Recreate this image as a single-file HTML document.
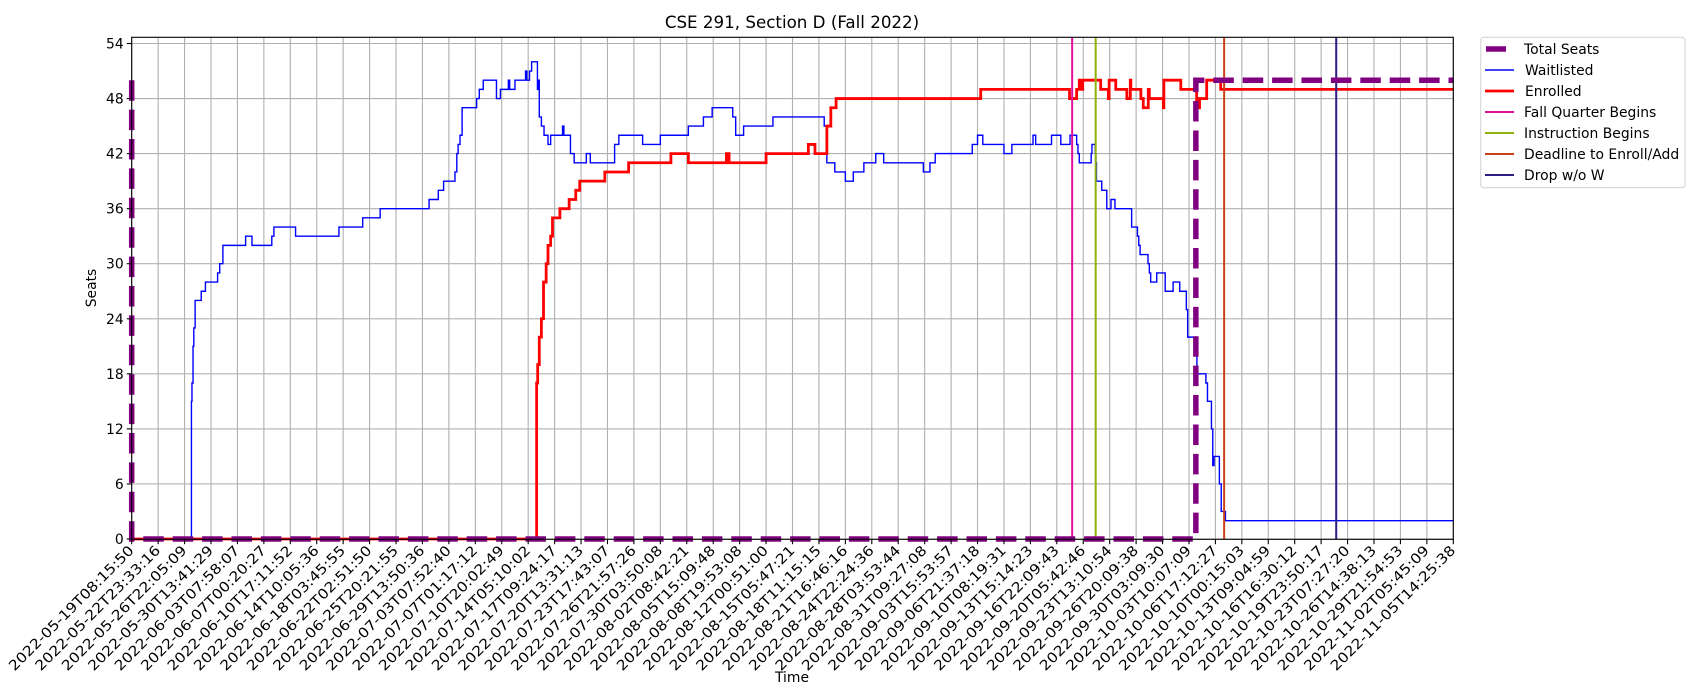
<!DOCTYPE html>
<html><head><meta charset="utf-8"><style>
html,body{margin:0;padding:0;background:#fff;}
svg{display:block;font-family:"DejaVu Sans","Liberation Sans",sans-serif;}
</style></head><body>
<svg id="chart" width="1700" height="700" viewBox="0 0 1700 700" xmlns="http://www.w3.org/2000/svg">
<rect width="1700" height="700" fill="#fff"/>
<text x="792" y="28" font-size="16.7" text-anchor="middle">CSE 291, Section D (Fall 2022)</text>
<g id="grid"></g>
<g id="series"></g>
<rect x="131.7" y="37.3" width="1321.6" height="502" fill="none" stroke="#000" stroke-width="1.1"/>
<g id="axes"></g>
<text x="96" y="288" font-size="13.9" text-anchor="middle" transform="rotate(-90 96 288)">Seats</text>
<text x="792" y="682" font-size="13.9" text-anchor="middle">Time</text>
<g>
<rect x="1480.7" y="37.3" width="204.3" height="150.4" rx="3" fill="#fff" stroke="#d6d6d6" stroke-width="1.1"/>
<g font-size="13.9">
<line x1="1486" y1="49" x2="1506" y2="49" stroke="#800080" stroke-width="5.5"/>
<text x="1524" y="54">Total Seats</text>
<line x1="1485" y1="70" x2="1514" y2="70" stroke="#0000ff" stroke-width="1.4"/>
<text x="1525" y="75">Waitlisted</text>
<line x1="1485" y1="91" x2="1514" y2="91" stroke="#ff0000" stroke-width="2.8"/>
<text x="1525" y="96">Enrolled</text>
<line x1="1485" y1="112" x2="1514" y2="112" stroke="#e0109f" stroke-width="2"/>
<text x="1524" y="117">Fall Quarter Begins</text>
<line x1="1485" y1="133" x2="1514" y2="133" stroke="#8fb20a" stroke-width="2"/>
<text x="1524" y="138">Instruction Begins</text>
<line x1="1485" y1="154" x2="1514" y2="154" stroke="#cc4016" stroke-width="2"/>
<text x="1524" y="159">Deadline to Enroll/Add</text>
<line x1="1485" y1="175" x2="1514" y2="175" stroke="#2a1f80" stroke-width="2"/>
<text x="1524" y="180">Drop w/o W</text>
</g></g>
</svg>
<script>
const tickLabels = ["2022-05-19T08:15:50","2022-05-22T23:33:16","2022-05-26T22:05:09","2022-05-30T13:41:29","2022-06-03T07:58:07","2022-06-07T00:20:27","2022-06-10T17:11:52","2022-06-14T10:05:36","2022-06-18T03:45:55","2022-06-22T02:51:50","2022-06-25T20:21:55","2022-06-29T13:50:36","2022-07-03T07:52:40","2022-07-07T01:17:12","2022-07-10T20:02:49","2022-07-14T05:10:02","2022-07-17T09:24:17","2022-07-20T13:31:13","2022-07-23T17:43:07","2022-07-26T21:57:26","2022-07-30T03:50:08","2022-08-02T08:42:21","2022-08-05T15:09:48","2022-08-08T19:53:08","2022-08-12T00:51:00","2022-08-15T05:47:21","2022-08-18T11:15:15","2022-08-21T16:46:16","2022-08-24T22:24:36","2022-08-28T03:53:44","2022-08-31T09:27:08","2022-09-03T15:53:57","2022-09-06T21:37:18","2022-09-10T08:19:31","2022-09-13T15:14:23","2022-09-16T22:09:43","2022-09-20T05:42:46","2022-09-23T13:10:54","2022-09-26T20:09:38","2022-09-30T03:09:30","2022-10-03T10:07:09","2022-10-06T17:12:27","2022-10-10T00:15:03","2022-10-13T09:04:59","2022-10-16T16:30:12","2022-10-19T23:50:17","2022-10-23T07:27:20","2022-10-26T14:38:13","2022-10-29T21:54:53","2022-11-02T05:45:09","2022-11-05T14:25:38"];
const yTicks = [0,6,12,18,24,30,36,42,48,54];
const totalX = [0,0,40.26,40.26,50];
const totalY = [50,0,0,50,50];
const enrolledX = [0,15.3,15.32,15.36,15.42,15.5,15.58,15.68,15.75,15.85,15.92,16.2,16.55,16.8,16.95,17.9,18.8,20.4,21.06,22.5,22.6,24.0,25.6,25.85,26.3,26.45,26.65,32.12,35.48,35.75,35.85,35.9,35.98,36.66,36.95,36.98,37.23,37.65,37.78,37.8,38.18,38.27,38.46,38.5,39.03,39.05,39.69,40.29,40.33,40.36,40.4,40.67,41.2,50];
const enrolledY = [0,0,17,19,22,24,28,30,32,33,35,36,37,38,39,40,41,42,41,42,41,42,43,42,45,47,48,49,48,49,50,49,50,49,48,50,49,48,50,49,48,47,49,48,47,50,49,47,48,47,48,50,49,49];
const waitX = [0,2.26,2.28,2.32,2.35,2.4,2.63,2.79,3.25,3.33,3.45,4.31,4.55,5.3,5.38,6.2,7.84,8.74,9.4,11.25,11.6,11.8,12.23,12.3,12.35,12.42,12.5,13.05,13.15,13.3,13.8,13.95,14.25,14.3,14.5,14.9,14.95,15.05,15.13,15.35,15.38,15.42,15.5,15.6,15.75,15.85,16.3,16.35,16.6,16.74,17.2,17.35,18.27,18.43,19.33,20.0,21.06,21.63,21.96,22.74,22.85,23.15,24.26,26.2,26.3,26.6,27.0,27.3,27.7,28.15,28.45,29.95,30.2,30.4,31.8,32.0,32.2,33.0,33.3,34.1,34.2,34.8,35.15,35.5,35.75,35.8,35.85,36.3,36.33,36.45,36.48,36.5,36.7,36.89,37.05,37.2,37.83,38.05,38.1,38.15,38.45,38.5,38.55,38.78,39.1,39.4,39.65,39.9,39.95,40.27,40.3,40.64,40.7,40.85,40.9,40.95,41.15,41.22,41.38,50];
const waitY = [0,15,17,21,23,26,27,28,29,30,32,33,32,33,34,33,34,35,36,37,38,39,40,42,43,44,47,48,49,50,48,49,50,49,50,51,50,51,52,49,50,46,45,44,43,44,45,44,42,41,42,41,43,44,43,44,45,46,47,46,44,45,46,45,41,40,39,40,41,42,41,40,41,42,43,44,43,42,43,44,43,44,43,44,43,42,41,42,43,42,41,39,38,36,37,36,34,33,32,31,30,29,28,29,27,28,27,25,22,21,18,17,15,12,8,9,6,3,2,2];
const eventNames = ["fall-quarter-begins","instruction-begins","deadline-enroll-add","drop-without-w"];
const eventX = [35.58,36.47,41.33,45.57];
const eventColors = ["#e0109f","#8fb20a","#cc4016","#2a1f80"];

const NS="http://www.w3.org/2000/svg";
const L=131.7,R=1453.3,T=37.3,B=539.3;
const xs=i=>L+(R-L)*i/50;
const ys=v=>539.0-v*(539.0-43.5)/54;
function mk(tag,attrs,parent){const e=document.createElementNS(NS,tag);for(const k in attrs)e.setAttribute(k,attrs[k]);parent.appendChild(e);return e;}
const grid=document.getElementById('grid'),axes=document.getElementById('axes'),series=document.getElementById('series');
tickLabels.forEach((lab,i)=>{
  const x=xs(i);
  const g=mk('line',{x1:x,y1:T,x2:x,y2:B,stroke:'#b0b0b0','stroke-width':1.1},grid);
  
  
  const t=mk('line',{x1:x,y1:B,x2:x,y2:B+4.9,stroke:'#000','stroke-width':1.1},axes);
  
  
  const tx=mk('text',{x:x+3,y:B+12,'font-size':13.9,'text-anchor':'end',transform:`rotate(-45 ${x+3} ${B+12})`,textLength:170,lengthAdjust:'spacingAndGlyphs'},axes);
  tx.textContent=lab;
  
  
});
yTicks.forEach(v=>{
  const y=ys(v);
  const g=mk('line',{x1:L,y1:y,x2:R,y2:y,stroke:'#b0b0b0','stroke-width':1.1},grid);
  
  
  const t=mk('line',{x1:L-4.9,y1:y,x2:L,y2:y,stroke:'#000','stroke-width':1.1},axes);
  
  
  const tx=mk('text',{x:L-8,y:y+5,'font-size':13.9,'text-anchor':'end'},axes);
  tx.textContent=v;
  
  
});
function stepPath(X,Y){let d=`M${xs(X[0])},${ys(Y[0])}`;for(let i=1;i<X.length;i++){d+=`H${xs(X[i])}V${ys(Y[i])}`;}return d;}
const wp=mk('path',{d:stepPath(waitX,waitY),fill:'none',stroke:'#0000ff','stroke-width':1.4},series);


const ep=mk('path',{d:stepPath(enrolledX,enrolledY),fill:'none',stroke:'#ff0000','stroke-width':2.8},series);


eventX.forEach((x,i)=>{
  const l=mk('line',{x1:xs(x),y1:T,x2:xs(x),y2:B,stroke:eventColors[i],'stroke-width':2},series);
  
  
});
let td=`M${xs(totalX[0])},${ys(totalY[0])}`;for(let i=1;i<totalX.length;i++)td+=`L${xs(totalX[i])},${ys(totalY[i])}`;
const tp=mk('path',{d:td,fill:'none',stroke:'#800080','stroke-width':5.5,'stroke-dasharray':'20.5 8.9'},series);


</script>
</body></html>
